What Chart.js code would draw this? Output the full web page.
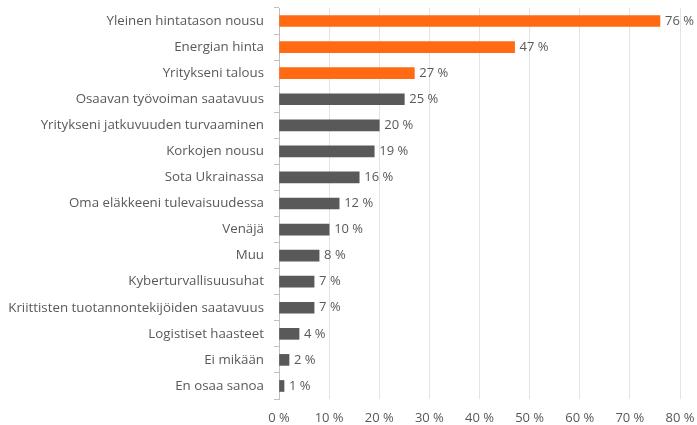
<!DOCTYPE html>
<html>
<head>
<meta charset="utf-8">
<script src="https://cdn.jsdelivr.net/npm/chart.js@4"></script>
<style>
  body { margin: 0; background: #fff; }
  #wrap { width: 697px; height: 425px; }
</style>
</head>
<body>
<div id="wrap"><canvas id="chart"></canvas></div>
<script>
// Categories and values (percent)
const categories = [
    "Yleinen hintatason nousu",
    "Energian hinta",
    "Yritykseni talous",
    "Osaavan työvoiman saatavuus",
    "Yritykseni jatkuvuuden turvaaminen",
    "Korkojen nousu",
    "Sota Ukrainassa",
    "Oma eläkkeeni tulevaisuudessa",
    "Venäjä",
    "Muu",
    "Kyberturvallisuusuhat",
    "Kriittisten tuotannontekijöiden saatavuus",
    "Logistiset haasteet",
    "Ei mikään",
    "En osaa sanoa"
];
const values = [76, 47, 27, 25, 20, 19, 16, 12, 10, 8, 7, 7, 4, 2, 1];
const highlighted = 3; // first three bars are orange

const orange = '#FF6A13';
const grey = '#595959';
const textColor = '#595959';
const fontFamily = "'Open Sans', 'Liberation Sans', sans-serif";

// Draw "76 %" style labels next to each bar
const valueLabels = {
    id: 'valueLabels',
    afterDatasetsDraw(chart) {
        const ctx = chart.ctx;
        const meta = chart.getDatasetMeta(0);
        ctx.save();
        ctx.font = '13px ' + fontFamily;
        ctx.fillStyle = textColor;
        ctx.textAlign = 'left';
        ctx.textBaseline = 'middle';
        meta.data.forEach((bar, i) => {
            ctx.fillText(values[i] + ' %', bar.x + 5, bar.y);
        });
        ctx.restore();
    }
};

new Chart(document.getElementById('chart'), {
    type: 'bar',
    data: {
        labels: categories,
        datasets: [{
            data: values,
            backgroundColor: values.map((v, i) => i < highlighted ? orange : grey),
            barThickness: 11
        }]
    },
    options: {
        indexAxis: 'y',
        responsive: true,
        maintainAspectRatio: false,
        animation: false,
        layout: { padding: { top: 8, right: 0, bottom: 0, left: 0 } },
        plugins: {
            legend: { display: false },
            tooltip: { enabled: false }
        },
        scales: {
            x: {
                min: 0,
                max: 80,
                ticks: {
                    stepSize: 10,
                    color: textColor,
                    font: { size: 13, family: fontFamily },
                    padding: 11,
                    callback: v => v + ' %'
                },
                grid: { color: '#e3e3e3', drawTicks: false },
                border: { display: false },
                afterFit: s => { s.height = 26; s.paddingLeft = 0; s.paddingRight = 17; }
            },
            y: {
                ticks: {
                    color: textColor,
                    font: { size: 13.3, family: fontFamily },
                    padding: 10,
                    autoSkip: false
                },
                grid: { drawOnChartArea: false, tickLength: 5, color: '#bfbfbf', offset: true },
                border: { color: '#bfbfbf' },
                afterFit: s => { s.width = 279; s.paddingTop = 0; s.paddingBottom = 0; }
            }
        }
    },
    plugins: [valueLabels]
});
</script>
</body>
</html>
